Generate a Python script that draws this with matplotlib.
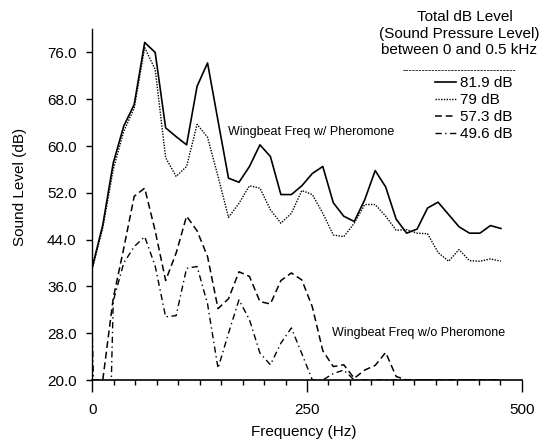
import matplotlib
matplotlib.use("Agg")
import matplotlib.pyplot as plt
from matplotlib.ticker import MultipleLocator, FixedLocator

plt.rcParams['font.family'] = ['Liberation Sans', 'DejaVu Sans']

freq_hz = [0.0, 12.2, 24.4, 36.6, 48.8, 61.0, 73.2, 85.4, 97.6, 109.8,
           122.0, 134.2, 146.4, 158.6, 170.8, 183.0, 195.2, 207.4, 219.6, 231.8,
           244.0, 256.2, 268.4, 280.6, 292.8, 305.0, 317.2, 329.4, 341.6, 353.8,
           366.0, 378.2, 390.4, 402.6, 414.8, 427.0, 439.2, 451.4, 463.6, 475.8]

db_81_9 = [39.3, 46.5, 57.1, 63.4, 67.1, 77.7, 76.0, 63.1, 61.6, 60.2,
           70.2, 74.2, 64.3, 54.5, 53.8, 56.5, 60.2, 58.2, 51.7, 51.7,
           53.2, 55.3, 56.5, 50.3, 48.0, 47.1, 50.8, 55.8, 53.0, 47.5,
           45.1, 45.8, 49.4, 50.4, 48.3, 46.2, 45.1, 45.1, 46.4, 45.9]

db_79 = [39.0, 46.0, 56.0, 62.5, 66.5, 76.8, 73.1, 58.0, 54.8, 56.5,
         63.7, 61.5, 54.8, 47.8, 50.2, 53.2, 52.8, 49.1, 46.8, 48.5,
         52.4, 51.7, 48.5, 44.8, 44.5, 46.8, 50.0, 50.0, 48.0, 45.6,
         45.7, 45.1, 45.0, 41.8, 40.3, 42.3, 40.4, 40.3, 40.7, 40.3]

db_57_3 = [20.0, 20.0, 34.0, 42.5, 51.4, 52.8, 45.5, 37.0, 41.7, 48.0,
           45.5, 41.1, 32.2, 33.9, 38.5, 37.7, 33.4, 33.0, 37.0, 38.3,
           37.1, 32.5, 25.0, 22.3, 22.6, 20.3, 21.7, 22.5, 24.7, 20.6,
           20.0, 20.0, 20.0, 20.0, 20.0, 20.0, 20.0, 20.0, 20.0, 20.0]

db_49_6 = [27.5, -40.0, 33.5, 40.0, 42.8, 44.5, 39.5, 30.8, 31.0, 39.1,
           39.4, 33.0, 22.0, 28.0, 33.7, 30.3, 24.6, 22.6, 26.3, 28.9,
           24.5, 20.0, 20.0, 21.1, 21.7, 20.0, 20.0, 20.0, 20.0, 20.0,
           20.0, 20.0, 20.0, 20.0, 20.0, 20.0, 20.0, 20.0, 20.0, 20.0]

legend_labels = ["81.9 dB", "79 dB", "57.3 dB", "49.6 dB"]
y_ticks = [20.0, 28.0, 36.0, 44.0, 52.0, 60.0, 68.0, 76.0]
x_ticks = [0, 250, 500]

W, H = 558, 444
PX = 72 / 100  # points per pixel at dpi 100
fig = plt.figure(figsize=(W / 100, H / 100), dpi=100)
ax = fig.add_axes([92.3 / W, 1 - 380 / H, (521.7 - 92.3) / W, (380 - 29) / H])

l1, = ax.plot(freq_hz, db_81_9, color='black', lw=1.2, ls='-')
l2, = ax.plot(freq_hz, db_79, color='black', lw=1.0, ls=(0, (1, 1)))
l3, = ax.plot(freq_hz, db_57_3, color='black', lw=1.1, ls=(0, (4.5, 2.5)))
l4, = ax.plot(freq_hz, db_49_6, color='black', lw=1.0, ls=(0, (4.5, 2.5, 1, 2.5)))

ax.set_xlim(0, 500)
ax.set_ylim(20, 80)
ax.spines['top'].set_visible(False)
ax.spines['right'].set_visible(False)
ax.spines['left'].set_linewidth(1.0)
ax.spines['bottom'].set_linewidth(1.2)

ax.yaxis.set_major_locator(FixedLocator(y_ticks))
ax.set_yticklabels([f"{v:.1f}" for v in y_ticks])
ax.xaxis.set_major_locator(FixedLocator(x_ticks))
ax.xaxis.set_minor_locator(MultipleLocator(25))
ax.tick_params(axis='y', direction='out', length=6 * PX, width=1, labelsize=11, pad=9.6 * PX)
ax.tick_params(axis='x', which='major', direction='out', length=12 * PX, width=1,
               labelsize=11, pad=11 * PX)
ax.tick_params(axis='x', which='minor', direction='out', length=5 * PX, width=1)

ax.set_xlabel("Frequency (Hz)", fontsize=11)
ax.set_ylabel("Sound Level (dB)", fontsize=11)
ax.xaxis.set_label_coords((304 - 92.3) / 429.4, -(431.7 - 380) / 351)
ax.yaxis.set_label_coords((20 - 92.3) / 429.4, (380 - 187) / 351)
ax.xaxis.label.set_va('center')
ax.yaxis.label.set_va('center')

ax.text(157.6, 62.4, "Wingbeat Freq w/ Pheromone", fontsize=9, va='center', ha='left')
ax.text(278.7, 28.1, "Wingbeat Freq w/o Pheromone", fontsize=9, va='center', ha='left')

# legend title
tx = 459 / W
fig.text(465 / W, 1 - 17 / H, "Total dB Level", fontsize=11, ha='center', va='center')
fig.text(tx, 1 - 34 / H, "(Sound Pressure Level)", fontsize=11, ha='center', va='center')
fig.text(tx, 1 - 50.5 / H, "between 0 and 0.5 kHz", fontsize=11, ha='center', va='center')
fig.text(tx, 1 - 70.5 / H, "-" * 35, fontsize=7, ha='center', va='center')

leg = ax.legend([l1, l2, l3, l4], legend_labels, frameon=False, fontsize=11,
                loc='upper left', bbox_to_anchor=(435 / W, 1 - 76 / H),
                bbox_transform=fig.transFigure, handlelength=1.4,
                handletextpad=0.25, labelspacing=0.2, borderpad=0, borderaxespad=0)

fig.savefig("out.png", dpi=100)
